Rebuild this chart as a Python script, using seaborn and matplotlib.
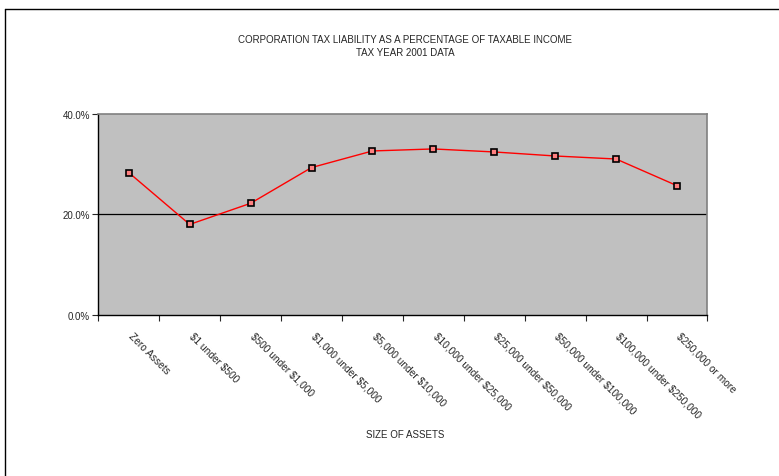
import matplotlib
matplotlib.use("Agg")
import matplotlib.pyplot as plt
from matplotlib.lines import Line2D
from matplotlib.ticker import FixedLocator, PercentFormatter
import numpy as np
import pandas as pd
import seaborn as sns

# data
asset_classes = [
    "Zero Assets",
    "$1 under $500",
    "$500 under $1,000",
    "$1,000 under $5,000",
    "$5,000 under $10,000",
    "$10,000 under $25,000",
    "$25,000 under $50,000",
    "$50,000 under $100,000",
    "$100,000 under $250,000",
    "$250,000 or more",
]
tax_pct = [28.3, 18.0, 22.2, 29.3, 32.6, 33.0, 32.4, 31.6, 31.0, 25.7]

df = pd.DataFrame({"size": asset_classes, "pct": tax_pct})
df["pos"] = np.arange(len(df))

sns.set_style("white")
plt.rcParams["font.family"] = ["Liberation Sans", "DejaVu Sans"]
plt.rcParams["text.parse_math"] = False  # dollar signs are literal

fig = plt.figure(figsize=(7.79, 4.77), dpi=100)
ax = fig.add_axes([0.1262, 0.3375, 0.782, 0.422])
ax.set_facecolor("#c0c0c0")

sns.lineplot(data=df, x="pos", y="pct", ax=ax, color="#ff0000", lw=1.0,
             marker="s", markersize=4, markeredgecolor="black",
             markerfacecolor="#ff8080", markeredgewidth=1.2)

ax.set_xlim(-0.5, len(df) - 0.5)
ax.set_ylim(0, 40)
ax.axhline(20, color="black", lw=0.9, zorder=1)

ax.yaxis.set_major_locator(FixedLocator([0, 20, 40]))
ax.yaxis.set_major_formatter(PercentFormatter(decimals=1))
ax.tick_params(axis="y", direction="out", length=4, width=0.8, labelsize=7, pad=2, left=True)

# category labels at centers, tick marks at boundaries
ax.set_xticks(df["pos"] + 0.08)
ax.set_xticklabels(df["size"], rotation=-45, ha="left", va="top",
                   rotation_mode="anchor", fontsize=7.3)
ax.tick_params(axis="x", which="major", length=0, pad=11)
ax.set_xticks(np.arange(-0.5, len(df), 1.0), minor=True)
ax.tick_params(axis="x", which="minor", direction="out", length=4, width=0.8, bottom=True)

for side in ["top", "right"]:
    ax.spines[side].set_color("#808080")
    ax.spines[side].set_linewidth(1.2)
for side in ["left", "bottom"]:
    ax.spines[side].set_color("black")
    ax.spines[side].set_linewidth(1.0)

ax.set_xlabel("")
ax.set_ylabel("")

fig.text(0.52, 0.917, "CORPORATION TAX LIABILITY AS A PERCENTAGE OF TAXABLE INCOME",
         ha="center", va="center", fontsize=7)
fig.text(0.52, 0.889, "TAX YEAR 2001 DATA", ha="center", va="center", fontsize=7)
fig.text(0.52, 0.088, "SIZE OF ASSETS", ha="center", va="center", fontsize=7)

# outer chart frame (clipped at right and bottom)
fig.add_artist(Line2D([0.0064, 1.0], [0.979, 0.979], color="black", lw=1.0))
fig.add_artist(Line2D([0.0064, 0.0064], [0.0, 0.979], color="black", lw=1.0))

fig.savefig("out.png", dpi=100)
plt.close(fig)
